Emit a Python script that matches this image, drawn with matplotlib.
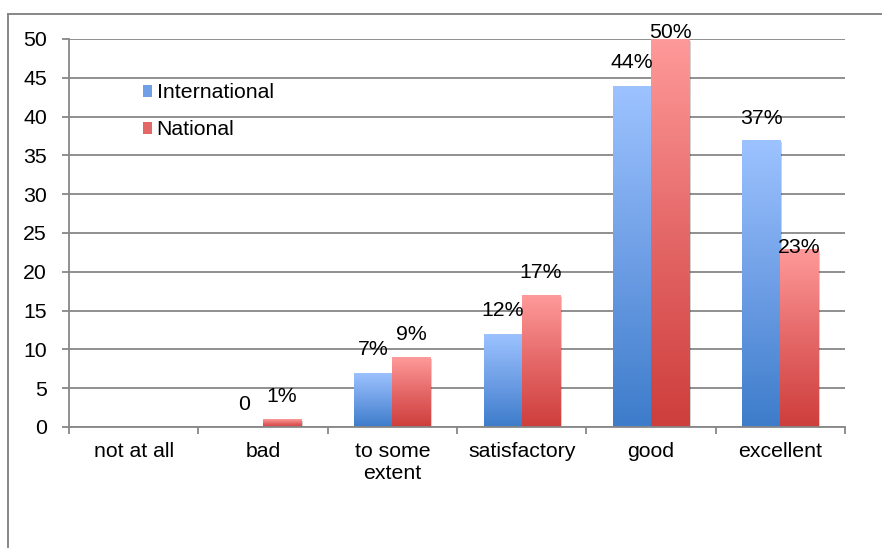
import numpy as np
import matplotlib
matplotlib.use("Agg")
import matplotlib.pyplot as plt
from matplotlib.colors import LinearSegmentedColormap
from matplotlib.patches import Patch
from matplotlib.lines import Line2D
import matplotlib.patheffects as pe

# ---- data ----
categories = ["not at all", "bad", "to some\nextent", "satisfactory", "good", "excellent"]
international = [0, 0, 7, 12, 44, 37]
national = [0, 1, 9, 17, 50, 23]
international_labels = ["", "0", "7%", "12%", "44%", "37%"]
national_labels = ["", "1%", "9%", "17%", "50%", "23%"]
yticks = [0, 5, 10, 15, 20, 25, 30, 35, 40, 45, 50]

# ---- style ----
plt.rcParams["font.family"] = ["Liberation Sans", "DejaVu Sans"]
FS = 15.3
GRID = "#878787"
blue_cmap = LinearSegmentedColormap.from_list("blue", ["#3d7cca", "#6f9fe6", "#9dc3ff"])
red_cmap = LinearSegmentedColormap.from_list("red", ["#cd3e3c", "#e56868", "#ff9a9a"])

W, H = 882, 548
fig = plt.figure(figsize=(W / 100, H / 100), dpi=100)
ax = fig.add_axes([69 / W, 1 - 427 / H, (845 - 69) / W, (427 - 39) / H])

# outer chart frame (runs off the right and bottom edges)
fig.add_artist(Line2D([8 / W, 8 / W], [1 - 14 / H, -0.01], transform=fig.transFigure,
                      color=GRID, lw=1.4))
fig.add_artist(Line2D([8 / W, 1.01], [1 - 14 / H, 1 - 14 / H], transform=fig.transFigure,
                      color=GRID, lw=1.4))

x = np.arange(len(categories))
bw = 0.294
gradient = np.linspace(0, 1, 256).reshape(-1, 1)

shadow = [pe.SimplePatchShadow(offset=(1.5, -1.5), shadow_rgbFace="#000000", alpha=0.18),
          pe.Normal()]

# label offsets (points above the bar top)
intl_offset = [16.5, 16.5, 16.5, 16.5, 16.5, 15.5]
nat_offset = [16.5, 16.5, 16.5, 16.5, 4.5, 1.0]

for vals, labels, offs, cmap, shift in [
    (international, international_labels, intl_offset, blue_cmap, -bw / 2),
    (national, national_labels, nat_offset, red_cmap, bw / 2),
]:
    bars = ax.bar(x + shift, vals, width=bw, color="white", linewidth=0, zorder=3)
    for b, v, lab, off in zip(bars, vals, labels, offs):
        if v > 0:
            b.set_path_effects(shadow)
            im = ax.imshow(gradient, cmap=cmap, origin="lower", aspect="auto",
                           extent=[b.get_x(), b.get_x() + b.get_width(), 0, b.get_height()],
                           zorder=4)
            im.set_clip_path(b)
        if lab:
            ax.annotate(lab, (b.get_x() + b.get_width() / 2, v), xytext=(0, off),
                        textcoords="offset points", ha="center", va="center",
                        fontsize=FS, color="black", zorder=6, annotation_clip=False)

ax.set_xlim(-0.5, len(categories) - 0.5)
ax.set_ylim(0, 50)
ax.set_yticks(yticks)
ax.set_yticklabels([str(t) for t in yticks], fontsize=FS)
ax.set_xticks(x)
ax.set_xticklabels(categories, fontsize=FS, linespacing=1.2)
ax.set_xticks(np.arange(len(categories) + 1) - 0.5, minor=True)
ax.tick_params(axis="x", which="major", length=0, pad=11)
ax.tick_params(axis="x", which="minor", length=5, width=1.3, color=GRID, direction="out")
ax.tick_params(axis="y", length=5, width=1.3, color=GRID, direction="out", pad=11)

ax.grid(axis="y", color=GRID, lw=1.3, zorder=0)
ax.set_axisbelow(True)
for side in ["top", "right"]:
    ax.spines[side].set_visible(False)
for side in ["left", "bottom"]:
    ax.spines[side].set_color(GRID)
    ax.spines[side].set_linewidth(1.3)
ax.spines["bottom"].set_zorder(5)

handles = [Patch(facecolor="#6f9fe6", edgecolor="none"),
           Patch(facecolor="#e56868", edgecolor="none")]
leg = ax.legend(handles, ["International", "National"], loc="upper left",
                bbox_to_anchor=(0.0815, 0.913), frameon=False, fontsize=FS,
                handlelength=0.45, handleheight=0.45, handletextpad=0.2,
                labelspacing=0.85, borderpad=0)

fig.savefig("out.png", dpi=100, facecolor="white")
